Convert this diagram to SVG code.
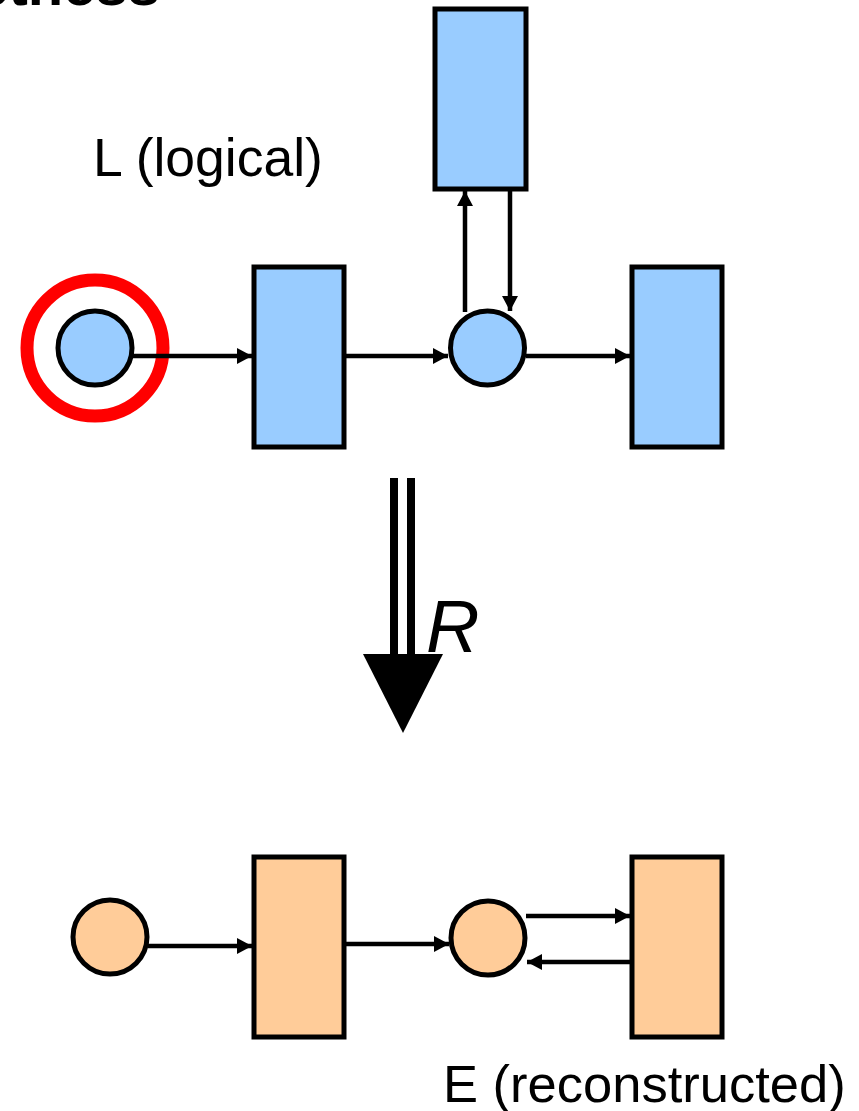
<svg xmlns="http://www.w3.org/2000/svg" width="859" height="1111" viewBox="0 0 859 1111">
  <style>
    .lbl { font-family: "Liberation Sans", Arial, sans-serif; fill: #000; }
    .blue { fill: #99CCFF; stroke: #000; stroke-width: 5; }
    .orange { fill: #FFCC99; stroke: #000; stroke-width: 5; }
    .edge { stroke: #000; stroke-width: 4.5; fill: none; marker-end: url(#arrow); }
  </style>
  <defs>
    <marker id="arrow" markerUnits="userSpaceOnUse" markerWidth="16" markerHeight="17" refX="15" refY="8" orient="auto">
      <path d="M0,0 L15,8 L0,16 Z" fill="#000"/>
    </marker>
  </defs>
  <rect width="859" height="1111" fill="#fff"/>

  <!-- heading, mostly above the visible area -->
  <text class="lbl" x="160" y="5" font-size="58" font-weight="bold" text-anchor="end">Correctness</text>

  <!-- labels -->
  <text class="lbl" x="93" y="176" font-size="53.5">L (logical)</text>
  <text class="lbl" x="443" y="1102" font-size="52.5">E (reconstructed)</text>

  <!-- logical row -->
  <g id="l-start">
    <circle cx="95" cy="348" r="68" fill="none" stroke="#FF0000" stroke-width="13"/>
    <circle class="blue" cx="95" cy="348" r="37"/>
  </g>
  <g id="l-box1"><rect class="blue" x="254" y="267" width="90" height="180"/></g>
  <g id="l-mid"><circle class="blue" cx="487.5" cy="348" r="37"/></g>
  <g id="l-box-top"><rect class="blue" x="435" y="9" width="91" height="180"/></g>
  <g id="l-box2"><rect class="blue" x="632" y="267" width="90" height="180"/></g>

  <!-- reconstructed row -->
  <g id="e-start"><circle class="orange" cx="110" cy="937" r="37"/></g>
  <g id="e-box1"><rect class="orange" x="254" y="857" width="90" height="180"/></g>
  <g id="e-mid"><circle class="orange" cx="488" cy="938" r="37"/></g>
  <g id="e-box2"><rect class="orange" x="632" y="857" width="90" height="180"/></g>

  <!-- transformation arrow R -->
  <g id="transform">
    <line x1="394" y1="478" x2="394" y2="660" stroke="#000" stroke-width="8"/>
    <line x1="411" y1="478" x2="411" y2="660" stroke="#000" stroke-width="8"/>
    <path d="M363,654 L443,654 L403,733 Z" fill="#000"/>
    <text class="lbl" x="426" y="652" font-size="74" font-style="italic">R</text>
  </g>

  <!-- connectors -->
  <g id="connectors">
    <line class="edge" x1="133" y1="356" x2="252" y2="356"/>
    <line class="edge" x1="346" y1="356" x2="448" y2="356"/>
    <line class="edge" x1="526" y1="356" x2="630" y2="356"/>
    <line class="edge" x1="465" y1="312" x2="465" y2="191"/>
    <line class="edge" x1="510" y1="191" x2="510" y2="311"/>

    <line class="edge" x1="148" y1="946" x2="252" y2="946"/>
    <line class="edge" x1="346" y1="944" x2="449" y2="944"/>
    <line class="edge" x1="526" y1="916" x2="630" y2="916"/>
    <line class="edge" x1="630" y1="962" x2="527" y2="962"/>
  </g>
</svg>
